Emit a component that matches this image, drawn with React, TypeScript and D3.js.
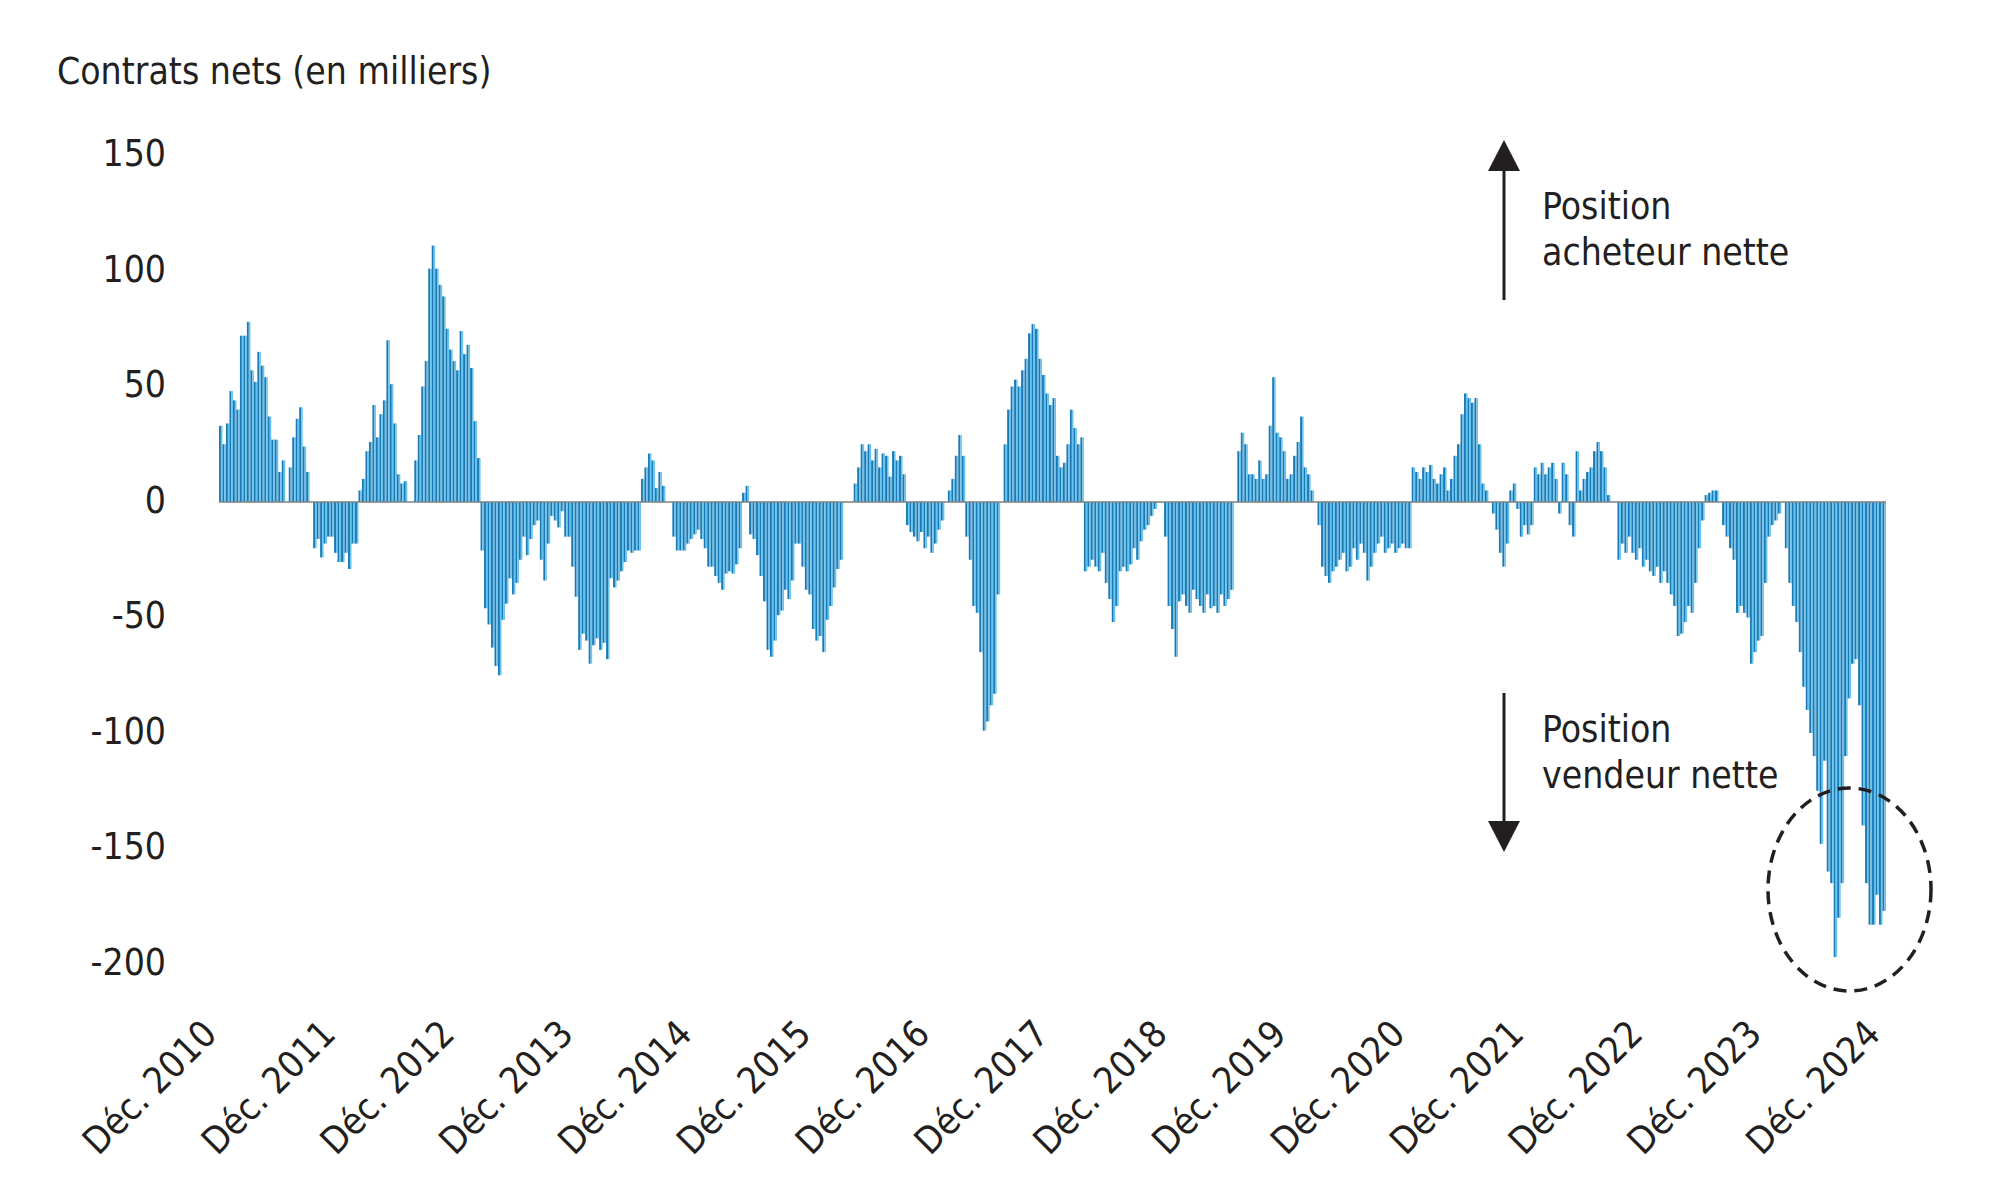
import React from "react";
import * as d3 from "d3";

// Net contracts (thousands), in chronological order, Dec 2010 -> Dec 2024
const period2011 = [33, 25, 34, 48, 44, 40, 72, 72, 78, 57, 52, 65, 59, 54, 37, 27, 27, 13, 18, 0, 15, 28, 36, 41, 24, 13, 0,
  -20, -16, -24, -18, -15, -15, -22, -26, -26, -22, -29, -18, -18];
const period2012 = [5, 10, 22, 26, 42, 28, 38, 44, 70, 51, 34, 12, 8, 9, 0, 0,
  18, 29, 50, 61, 101, 111, 101, 94, 89, 75, 66, 61, 57, 74, 64, 68, 58, 35, 19];
const period2013 = [-21, -46, -53, -63, -71, -75, -51, -44, -33, -40, -35, -25, -15, -23, -16, -10, -8, -25, -34, -18, -6, -8, -11,
  -4, -15, -15, -28, -41, -64, -57, -60, -70, -62, -59, -64, -61, -68, -33, -37, -34, -30, -26, -21, -22, -21, -21];
const period2014 = [10, 15, 21, 18, 6, 13, 7, 0, 0,
  -15, -21, -21, -21, -18, -16, -14, -12, -16, -20, -28, -28, -32, -35, -38, -31, -30, -31, -27, -20, 4, 7];
const period2015 = [-14, -16, -23, -32, -43, -64, -67, -60, -49, -47, -38, -42, -34, -18, -18, -28, -38, -40, -55, -60, -58, -65,
  -51, -45, -37, -29, -25, 0, 0, 0];
const period2016 = [8, 15, 25, 22, 25, 18, 23, 15, 21, 20, 11, 22, 18, 20, 12,
  -10, -13, -15, -17, -13, -20, -15, -22, -18, -12, -8, 0, 5, 10, 20, 29, 20,
  -15, -25, -45, -48, -65, -99, -95, -88, -83, -40, 0];
const period2017 = [25, 40, 50, 53, 50, 57, 62, 73, 77, 75, 62, 55, 47, 42, 45, 20, 15, 17, 25, 40, 32, 25, 28];
const period2018 = [-30, -28, -25, -28, -30, -22, -35, -42, -52, -45, -30, -28, -30, -27, -20, -25, -17, -12, -10, -6, -3, 0, 0,
  -15, -45, -55, -67, -43, -40, -45, -48, -38, -42, -45, -48, -40, -46, -45, -48, -40, -45, -42, -38, 0];
const period2019 = [22, 30, 25, 12, 12, 10, 18, 10, 12, 33, 54, 30, 28, 22, 10, 12, 20, 26, 37, 15, 12, 5, 0,
  -10, -28, -32, -35, -30, -28, -25, -22, -30, -28, -20, -25, -18, -22, -34, -28, -22, -18, -15, -22, -20, -18, -22, -20, -18, -20, -20];
const period2021 = [15, 13, 10, 15, 13, 16, 10, 8, 12, 15, 5, 10, 20, 25, 38, 47, 45, 43, 45, 25, 8, 5, 0,
  -5, -12, -22, -28, -18, 5, 8, -3, -15, -10, -14, -10, 15, 12, 17, 12, 15, 17, 10, -5, 17, 12, -10, -15, 22, 5, 10, 13, 15, 22, 26, 22, 15, 3, 0, 0];
const period2022 = [-25, -18, -22, -15, -22, -25, -20, -28, -25, -30, -32, -28, -35, -30, -35, -40, -45, -58, -57, -52, -45, -48, -35, -20, -8,
  3, 4, 5, 5, 0];
const period2023 = [-10, -15, -20, -25, -48, -45, -48, -50, -70, -65, -60, -58, -35, -15, -10, -8, -5, 0];
const period2024 = [-20, -35, -45, -52, -65, -80, -90, -100, -110, -125, -148, -112, -160, -165, -197, -180, -165, -110, -85, -70,
  -68, -88, -140, -165, -183, -183, -170, -183, -177];

const netContracts = [
  ...period2011, ...period2012, ...period2013, ...period2014, ...period2015, ...period2016,
  ...period2017, ...period2018, ...period2019, ...period2021, ...period2022, ...period2023, ...period2024,
];

const yTicks = [150, 100, 50, 0, -50, -100, -150, -200];
const xTickLabels = [
  "Déc. 2010", "Déc. 2011", "Déc. 2012", "Déc. 2013", "Déc. 2014", "Déc. 2015", "Déc. 2016",
  "Déc. 2017", "Déc. 2018", "Déc. 2019", "Déc. 2020", "Déc. 2021", "Déc. 2022", "Déc. 2023", "Déc. 2024",
];
const yTitle = "Contrats nets (en milliers)";
const upLabel = ["Position", "acheteur nette"];
const downLabel = ["Position", "vendeur nette"];

const FONT = "'Liberation Sans Narrow', 'DejaVu Sans Condensed', 'Roboto Condensed', 'Open Sans', sans-serif";
const TEXT = "#231f20";
const DARK = "#1c79b4";
const LIGHT = "#66c4ee";

export default function App() {
  const W = 2000;
  const H = 1204;
  const n = netContracts.length;
  const x = d3.scaleBand<number>().domain(d3.range(n)).range([219, 1886]).padding(0);
  const bw = x.bandwidth();
  const y = d3.scaleLinear().domain([-200, 150]).range([964, 155.5]);
  const tickX = d3.scaleLinear().domain([0, xTickLabels.length - 1]).range([(x(0) ?? 0) + bw / 2, (x(n - 1) ?? 0) + bw / 2]);
  const y0 = y(0);

  return (
    <svg width={W} height={H} style={{ position: "absolute", left: 0, top: 0, background: "#fff" }} fontFamily={FONT}>
      <rect x={0} y={0} width={W} height={H} fill="#fff" />
      <text x={57} y={84} fontSize={37} fill={TEXT}>{yTitle}</text>
      {yTicks.map((t) => (
        <text key={t} x={166} y={y(t)} dy="0.29em" textAnchor="end" fontSize={37} fill={TEXT}>{t}</text>
      ))}
      <g>
        {netContracts.map((v, i) => {
          const x0 = x(i) ?? 0;
          const top = Math.min(y(v), y0);
          const h = Math.abs(y(v) - y0);
          if (h < 0.01) return null;
          return (
            <g key={i}>
              <rect x={x0} y={top} width={bw * 0.55} height={h} fill={DARK} />
              <rect x={x0 + bw * 0.55} y={top} width={bw * 0.45} height={h} fill={LIGHT} />
            </g>
          );
        })}
      </g>
      <line x1={x(0)} x2={(x(n - 1) ?? 0) + bw} y1={y0} y2={y0} stroke="#808080" strokeWidth={1.6} />
      {xTickLabels.map((lab, k) => (
        <text key={lab} transform={`translate(${tickX(k) - 2},${1036}) rotate(-45)`} textAnchor="end" fontSize={37} fill={TEXT}>{lab}</text>
      ))}
      {/* arrows */}
      <line x1={1504} x2={1504} y1={300} y2={168} stroke={TEXT} strokeWidth={3} />
      <path d="M1504,140 L1520,171 L1488,171 Z" fill={TEXT} />
      <line x1={1504} x2={1504} y1={693} y2={823} stroke={TEXT} strokeWidth={3} />
      <path d="M1504,852 L1520,821 L1488,821 Z" fill={TEXT} />
      <text x={1542} y={219} fontSize={37} fill={TEXT}>{upLabel[0]}</text>
      <text x={1542} y={265} fontSize={37} fill={TEXT}>{upLabel[1]}</text>
      <text x={1542} y={742} fontSize={37} fill={TEXT}>{downLabel[0]}</text>
      <text x={1542} y={788} fontSize={37} fill={TEXT}>{downLabel[1]}</text>
      <ellipse cx={1849.5} cy={889.5} rx={81.5} ry={101.5} fill="none" stroke={TEXT} strokeWidth={3.5} strokeDasharray="13 8" />
    </svg>
  );
}
